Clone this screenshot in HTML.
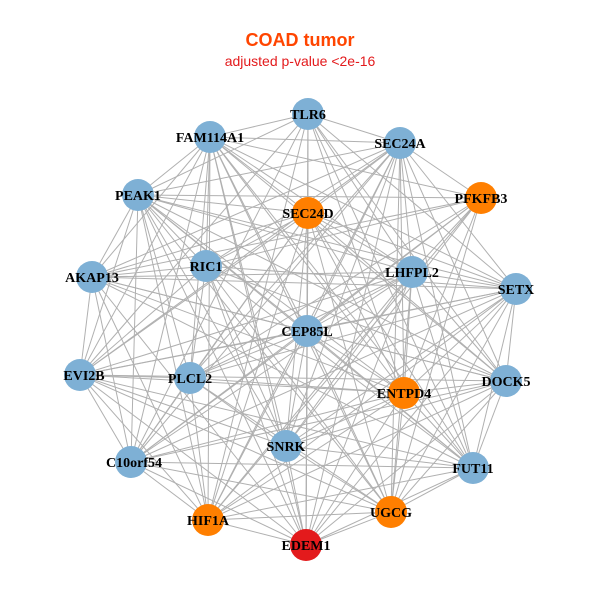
<!DOCTYPE html>
<html><head><meta charset="utf-8"><style>
html,body{margin:0;padding:0;background:#fff;width:600px;height:600px;overflow:hidden}
</style></head><body>
<svg id="s" width="600" height="600" xmlns="http://www.w3.org/2000/svg">
<rect width="600" height="600" fill="#fff"/>
<text x="300" y="46" text-anchor="middle" font-family="Liberation Sans, sans-serif" font-weight="bold" font-size="18" fill="#ff4500">COAD tumor</text>
<text x="300" y="66" text-anchor="middle" font-family="Liberation Sans, sans-serif" font-size="14" fill="#e31a1c">adjusted p-value &lt;2e-16</text>
<g id="edges" stroke="#b0b0b0" stroke-width="1"></g>
<g id="nodes"></g>
<g font-family="Liberation Serif, serif" font-weight="bold" font-size="14" fill="#000" text-anchor="middle">
<text x="308" y="119">TLR6</text>
<text x="400" y="148">SEC24A</text>
<text x="210" y="142">FAM114A1</text>
<text x="481" y="203">PFKFB3</text>
<text x="138" y="200">PEAK1</text>
<text x="308" y="218">SEC24D</text>
<text x="206" y="271">RIC1</text>
<text x="412" y="277">LHFPL2</text>
<text x="516" y="294">SETX</text>
<text x="92" y="282">AKAP13</text>
<text x="307" y="336">CEP85L</text>
<text x="84" y="380">EVI2B</text>
<text x="190" y="383">PLCL2</text>
<text x="404" y="398">ENTPD4</text>
<text x="506" y="386">DOCK5</text>
<text x="286" y="451">SNRK</text>
<text x="134" y="467">C10orf54</text>
<text x="473" y="473">FUT11</text>
<text x="391" y="517">UGCG</text>
<text x="208" y="525">HIF1A</text>
<text x="306" y="550">EDEM1</text>
</g>
</svg>
<script>
var N=[[308,114,'b'],[400,143,'b'],[210,137,'b'],[481,198,'o'],[138,195,'b'],[308,213,'o'],[206,266,'b'],[412,272,'b'],[516,289,'b'],[92,277,'b'],[307,331,'b'],[80,375,'b'],[190,378,'b'],[404,393,'o'],[506,381,'b'],[286,446,'b'],[131,462,'b'],[473,468,'b'],[391,512,'o'],[208,520,'o'],[306,545,'r']];
var C={b:'#7eb0d5',o:'#ff7f00',r:'#e31a1c'};
var ns='http://www.w3.org/2000/svg',E=document.getElementById('edges'),G=document.getElementById('nodes');
for(var i=0;i<N.length;i++)for(var j=i+1;j<N.length;j++){if((i*7+j*3)%9==0)continue;var l=document.createElementNS(ns,'line');l.setAttribute('x1',N[i][0]);l.setAttribute('y1',N[i][1]);l.setAttribute('x2',N[j][0]);l.setAttribute('y2',N[j][1]);E.appendChild(l);}
N.forEach(function(n){var c=document.createElementNS(ns,'circle');c.setAttribute('cx',n[0]);c.setAttribute('cy',n[1]);c.setAttribute('r',16);c.setAttribute('fill',C[n[2]]);G.appendChild(c);});
</script>
</body></html>
